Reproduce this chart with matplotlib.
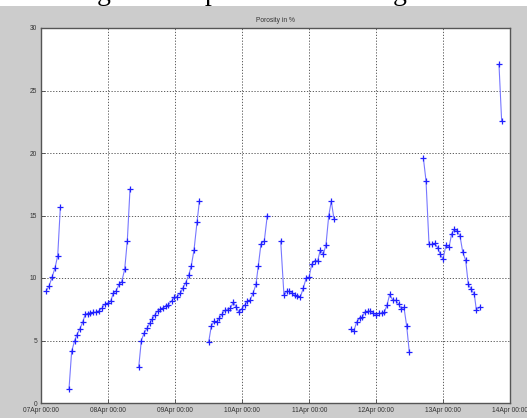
import datetime as dt
import matplotlib
matplotlib.use("Agg")
import matplotlib.pyplot as plt
import matplotlib.dates as mdates
from matplotlib.patches import Rectangle

# Measurement runs: elapsed time in days since 07 Apr 00:00, porosity in %
run1_days = [0.070, 0.115, 0.160, 0.204, 0.245, 0.284]
run1_por = [8.93, 9.35, 10.05, 10.80, 11.78, 15.65]

run2_days = [0.413, 0.453, 0.498, 0.533, 0.573, 0.617, 0.657, 0.692, 0.731, 0.776,
             0.816, 0.861, 0.906, 0.946, 0.991, 1.036, 1.075, 1.119, 1.160, 1.200,
             1.245, 1.284, 1.324]
run2_por = [1.09, 4.13, 5.00, 5.48, 5.91, 6.45, 7.11, 7.16, 7.22, 7.25,
            7.27, 7.38, 7.59, 7.89, 7.99, 8.15, 8.79, 8.98, 9.49, 9.70,
            10.71, 13.00, 17.11]

run3_days = [1.454, 1.493, 1.537, 1.578, 1.618, 1.657, 1.697, 1.737, 1.776, 1.816,
             1.857, 1.896, 1.946, 1.985, 2.025, 2.075, 2.115, 2.155, 2.200, 2.239,
             2.279, 2.324, 2.360]
run3_por = [2.87, 5.00, 5.62, 5.97, 6.37, 6.71, 7.06, 7.35, 7.49, 7.62,
            7.75, 7.86, 8.18, 8.45, 8.50, 8.77, 9.22, 9.62, 10.23, 10.98,
            12.23, 14.45, 16.18]

run4_days = [2.498, 2.537, 2.578, 2.618, 2.657, 2.697, 2.737, 2.782, 2.821, 2.866,
             2.910, 2.951, 2.991, 3.036, 3.075, 3.115, 3.160, 3.204, 3.239, 3.279,
             3.328, 3.373]
run4_por = [4.87, 6.15, 6.53, 6.45, 6.79, 7.09, 7.41, 7.46, 7.57, 8.07,
            7.65, 7.25, 7.54, 7.83, 8.15, 8.23, 8.77, 9.49, 10.98, 12.74,
            12.95, 15.00]

run5_days = [3.573, 3.622, 3.663, 3.701, 3.742, 3.782, 3.821, 3.866, 3.910, 3.955,
             3.996, 4.036, 4.081, 4.125, 4.164, 4.209, 4.249, 4.290, 4.328, 4.369]
run5_por = [12.95, 8.61, 8.93, 8.93, 8.82, 8.61, 8.58, 8.47, 9.19, 10.02,
            10.05, 11.09, 11.38, 11.38, 12.23, 11.89, 12.66, 14.98, 16.15, 14.71]

run6_days = [4.618, 4.663, 4.707, 4.752, 4.791, 4.831, 4.871, 4.910, 4.955, 4.996,
             5.040, 5.081, 5.120, 5.160, 5.200, 5.245, 5.290, 5.334, 5.373, 5.413,
             5.454, 5.493]
run6_por = [5.89, 5.73, 6.47, 6.79, 6.87, 7.30, 7.33, 7.35, 7.19, 7.03,
            7.19, 7.17, 7.27, 7.83, 8.69, 8.23, 8.21, 7.91, 7.54, 7.65,
            6.13, 4.05]

run7_days = [5.703, 5.742, 5.787, 5.831, 5.872, 5.916, 5.955, 5.996, 6.040, 6.085,
             6.125, 6.164, 6.204, 6.249, 6.289, 6.334, 6.373, 6.418, 6.463, 6.493,
             6.543]
run7_por = [19.57, 17.78, 12.69, 12.69, 12.77, 12.42, 11.89, 11.51, 12.63, 12.45,
            13.54, 13.89, 13.75, 13.38, 12.10, 11.41, 9.49, 9.09, 8.69, 7.46,
            7.67]

run8_days = [6.831, 6.871]
run8_por = [27.09, 22.55]

runs = [(run1_days, run1_por), (run2_days, run2_por), (run3_days, run3_por),
        (run4_days, run4_por), (run5_days, run5_por), (run6_days, run6_por),
        (run7_days, run7_por), (run8_days, run8_por)]

start = dt.datetime(2008, 4, 7)
tick_days = [0, 1, 2, 3, 4, 5, 6, 7]
y_ticks = [0, 5, 10, 15, 20, 25, 30]

W, H = 527, 418
fig = plt.figure(figsize=(W / 100, H / 100), dpi=100, facecolor="#cccccc")

# page header strip with the descenders of the heading above the figure
fig.patches.append(Rectangle((0, 1 - 6 / H), 1, 6 / H, transform=fig.transFigure,
                             facecolor="white", edgecolor="none", zorder=0))
for gx, ch in [(104, "g"), (212, "p"), (400, "g")]:
    fig.text(gx / W, 1 + 0.5 / H, ch, fontsize=20, family="Liberation Serif",
             ha="center", va="baseline", color="black")

ax = fig.add_axes([41.3 / W, 1 - 403 / H, (510.3 - 41.3) / W, (403 - 28) / H])
ax.set_facecolor("white")

for days, por in runs:
    t = [start + dt.timedelta(days=d) for d in days]
    ax.plot(t, por, "-", color="#7777ff", lw=0.8, zorder=3)
    ax.plot(t, por, "+", color="#2020ff", ms=3.8, mew=0.9, zorder=4)

ax.set_xlim(start, start + dt.timedelta(days=7))
ax.set_ylim(0, 30)
ax.set_xticks([start + dt.timedelta(days=d) for d in tick_days])
ax.xaxis.set_major_formatter(mdates.DateFormatter("%d%b %H:%M"))
ax.set_yticks(y_ticks)

ax.grid(True, linestyle=(0, (1.5, 2)), color="#444444", lw=0.6)
ax.tick_params(direction="in", length=3, width=0.6, colors="#444444",
               labelsize=4.8, labelcolor="#333333", pad=3)
for lab in ax.get_xticklabels() + ax.get_yticklabels():
    lab.set_family("Liberation Sans")
for s in ax.spines.values():
    s.set_color("#555555")
    s.set_linewidth(1.0)

ax.set_title("Porosity in %", fontsize=4.8, family="Liberation Sans",
             color="#333333", pad=4)

fig.savefig("out.png", dpi=100, facecolor=fig.get_facecolor())
